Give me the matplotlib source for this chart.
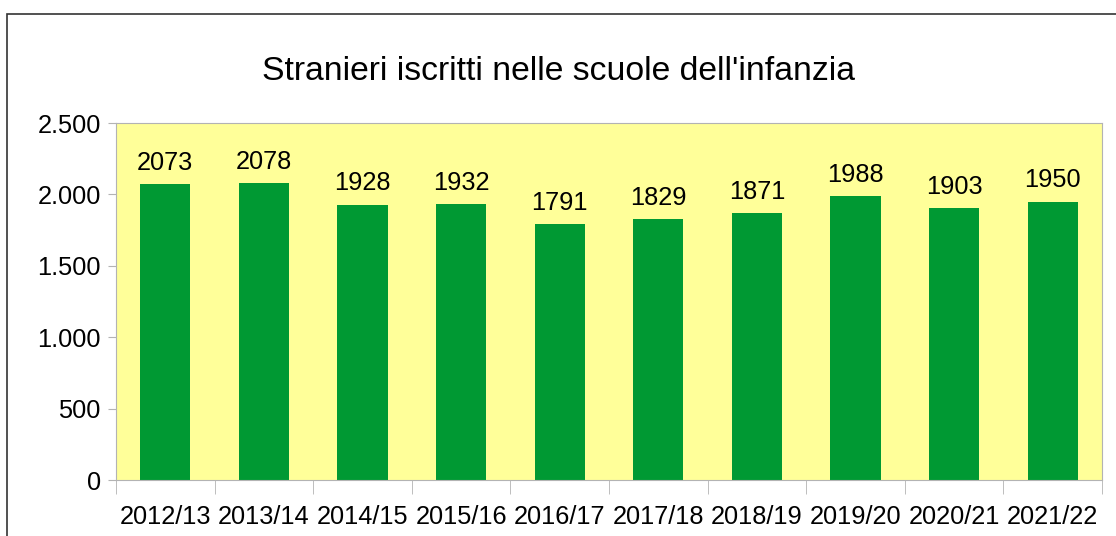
import matplotlib.pyplot as plt
from matplotlib.patches import Rectangle

plt.rcParams['font.family'] = ['Liberation Sans', 'DejaVu Sans']

anni = ['2012/13', '2013/14', '2014/15', '2015/16', '2016/17',
        '2017/18', '2018/19', '2019/20', '2020/21', '2021/22']
stranieri = [2073, 2078, 1928, 1932, 1791, 1829, 1871, 1988, 1903, 1950]
yticks = [0, 500, 1000, 1500, 2000, 2500]
ylabels = ['0', '500', '1.000', '1.500', '2.000', '2.500']

fig = plt.figure(figsize=(11.16, 5.36), dpi=100)
# outer frame of the chart object
fig.patches.append(Rectangle((7 / 1116, -0.1), 1.2, 1.1 - 14 / 536,
                             transform=fig.transFigure, fill=False,
                             edgecolor='#333333', linewidth=1.2))

ax = fig.add_axes([116 / 1116, 56 / 536, 986 / 1116, 357 / 536])
ax.set_facecolor('#ffff99')
x = range(len(anni))
ax.bar(x, stranieri, width=0.51, color='#009933')
for i, v in enumerate(stranieri):
    ax.text(i, v + 65, str(v), ha='center', va='bottom', fontsize=18.3)

ax.set_xlim(-0.5, len(anni) - 0.5)
ax.set_ylim(0, 2500)
ax.set_yticks(yticks)
ax.set_yticklabels(ylabels, fontsize=18.3)
ax.set_xticks(list(x))
ax.set_xticklabels(anni, fontsize=18.3)
ax.set_xticks([i - 0.5 for i in range(len(anni) + 1)], minor=True)
ax.tick_params(axis='x', which='major', length=0, pad=18)
ax.tick_params(axis='x', which='minor', length=10, color='#b3b3b3')
ax.tick_params(axis='y', length=6, color='#b3b3b3', pad=5)
for s in ax.spines.values():
    s.set_color('#b3b3b3')

fig.text(0.5, 1 - 71 / 536, "Stranieri iscritti nelle scuole dell'infanzia",
         ha='center', va='center', fontsize=24.3)

fig.savefig('out.png', dpi=100)
